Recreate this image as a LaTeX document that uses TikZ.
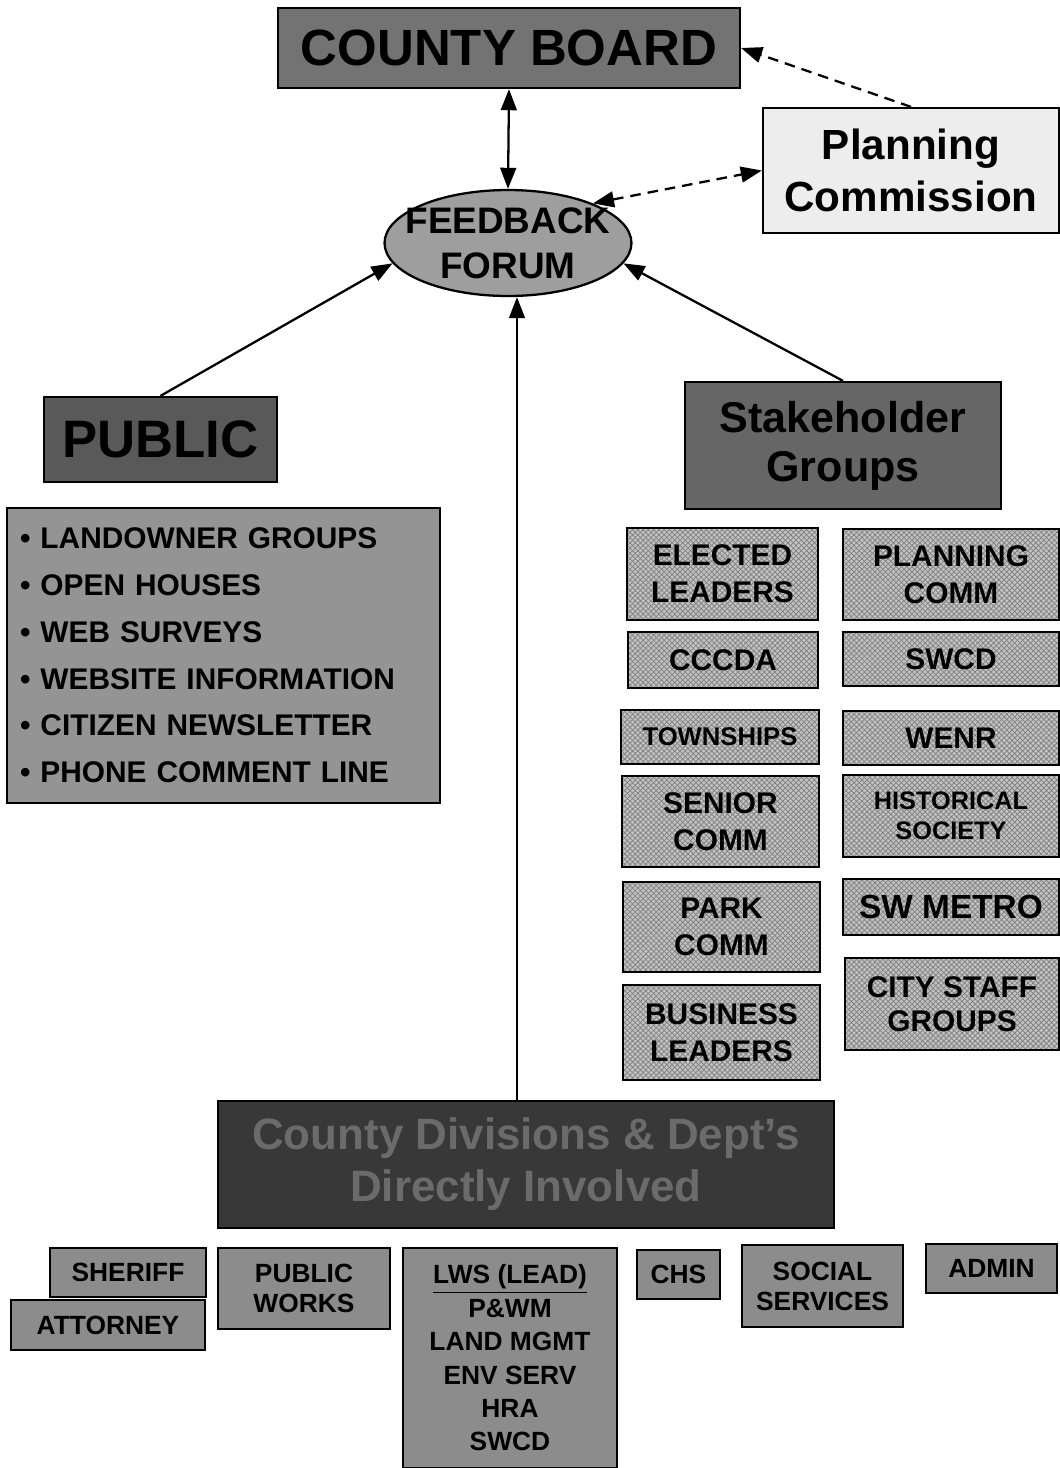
\documentclass[tikz,border=0pt]{standalone}
\usepackage{fontspec}
\setmainfont{Liberation Sans}
\usetikzlibrary{arrows.meta}
\usetikzlibrary{shapes.geometric}
\usetikzlibrary{patterns}
\usepackage{xcolor}

\begin{document}
\begin{tikzpicture}[
        x=0.02cm, y=-0.02cm,
        box/.style={rectangle, draw=black, line width=1.3pt, inner sep=0pt, align=center, font=\bfseries},
        head/.style={box, fill=black!58},
        sgroup/.style={box, preaction={fill=black!24}, pattern=crosshatch, pattern color=black!50, font=\bfseries\fontsize{17}{21}\selectfont},
        dept/.style={box, fill=black!45, font=\bfseries\fontsize{15}{17}\selectfont},
        link/.style={line width=1.3pt, -{Triangle[length=12pt,width=9pt]}},
        dlink/.style={line width=1.3pt, {Triangle[length=12pt,width=9pt]}-{Triangle[length=12pt,width=9pt]}},
        dash link/.style={dash pattern=on 6pt off 4pt}
    ]
        \useasboundingbox (0,0) rectangle (1059,1468);

        % top of the chart
        \node[head, fill=black!55, minimum width=9.24cm, minimum height=1.6cm, font=\bfseries\fontsize{29}{32}\selectfont] (board) at (509,48) {COUNTY BOARD};
        \node[box, fill=black!7, minimum width=5.92cm, minimum height=2.5cm, font=\bfseries\fontsize{24}{29.5}\selectfont] (plan) at (911,170.5) {Planning\\Commission};
        \node[ellipse, draw=black, line width=1.3pt, fill=black!38, inner sep=0pt, minimum width=4.94cm, minimum height=2.12cm] (forum) at (508,243) {};
        \node[align=center, font=\bfseries\fontsize{21}{25.5}\selectfont] (forumlbl) at (forum.center) {FEEDBACK\\FORUM};

        % public side
        \node[head, fill=black!65, minimum width=4.66cm, minimum height=1.7cm, font=\bfseries\fontsize{30}{34}\selectfont] (public) at (160.5,439.5) {PUBLIC};
        \node[box, fill=black!42, text width=8.14cm, inner xsep=0.26cm, minimum height=5.9cm, align=left, font=\bfseries\fontsize{17}{26.6}\selectfont] (outreach) at (223.5,655.5)
            {\textbullet\ LANDOWNER GROUPS\\\textbullet\ OPEN HOUSES\\\textbullet\ WEB SURVEYS\\\textbullet\ WEBSITE INFORMATION\\\textbullet\ CITIZEN NEWSLETTER\\\textbullet\ PHONE COMMENT LINE};

        % stakeholders
        \node[head, fill=black!60, minimum width=6.32cm, minimum height=2.54cm, font=\bfseries\fontsize{24.5}{28}\selectfont] (stake) at (843,445.5) {Stakeholder\\Groups};

        \node[sgroup, minimum width=3.82cm, minimum height=1.84cm] (elected) at (722.5,574) {ELECTED\\LEADERS};
        \node[sgroup, minimum width=3.8cm, minimum height=1.12cm] (cccda) at (723,660) {CCCDA};
        \node[sgroup, minimum width=3.96cm, minimum height=1.08cm, font=\bfseries\fontsize{14.6}{17}\selectfont] (townships) at (720,737) {TOWNSHIPS};
        \node[sgroup, minimum width=3.94cm, minimum height=1.82cm] (senior) at (720.5,821.5) {SENIOR\\COMM};
        \node[sgroup, minimum width=3.94cm, minimum height=1.8cm] (park) at (721.5,927) {PARK\\COMM};
        \node[sgroup, minimum width=3.94cm, minimum height=1.9cm] (business) at (721.5,1032.5) {BUSINESS\\LEADERS};

        \node[sgroup, minimum width=4.32cm, minimum height=1.82cm] (plancomm) at (951,574.5) {PLANNING\\COMM};
        \node[sgroup, minimum width=4.32cm, minimum height=1.08cm] (swcd) at (951,659) {SWCD};
        \node[sgroup, minimum width=4.32cm, minimum height=1.08cm] (wenr) at (951,738) {WENR};
        \node[sgroup, minimum width=4.32cm, minimum height=1.64cm, font=\bfseries\fontsize{14.4}{17}\selectfont] (historical) at (951,816) {HISTORICAL\\SOCIETY};
        \node[sgroup, minimum width=4.32cm, minimum height=1.12cm, font=\bfseries\fontsize{19}{21}\selectfont] (swmetro) at (951,907) {SW METRO};
        \node[sgroup, minimum width=4.28cm, minimum height=1.84cm, font=\bfseries\fontsize{17}{19.5}\selectfont] (citystaff) at (952,1004) {CITY STAFF\\GROUPS};

        % county departments
        \node[box, fill=black!78, text=black!58, minimum width=12.32cm, minimum height=2.54cm, font=\bfseries\fontsize{25}{29.5}\selectfont] (divs) at (526,1164.5) {County Divisions \& Dept's\\Directly Involved};
        \coordinate (divtop) at (517,1101);

        \node[dept, minimum width=3.12cm, minimum height=0.98cm] (sheriff) at (128,1272.5) {SHERIFF};
        \node[dept, minimum width=3.88cm, minimum height=1.0cm] (attorney) at (108,1325) {ATTORNEY};
        \node[dept, minimum width=3.44cm, minimum height=1.62cm] (pubworks) at (304,1288.5) {PUBLIC\\WORKS};
        \node[dept, minimum width=4.28cm, minimum height=4.4cm, font=\bfseries\fontsize{15}{19}\selectfont] (lws) at (510,1358) {\underline{LWS (LEAD)}\\P\&WM\\LAND MGMT\\ENV SERV\\HRA\\SWCD};
        \node[dept, minimum width=1.66cm, minimum height=0.98cm] (chs) at (678.5,1274.5) {CHS};
        \node[dept, minimum width=3.22cm, minimum height=1.64cm] (social) at (822.5,1286) {SOCIAL\\SERVICES};
        \node[dept, minimum width=2.62cm, minimum height=0.98cm] (admin) at (991.5,1268.5) {ADMIN};

        % connectors
        \draw[dlink] (board.south) -- (forum.north);
        \draw[link, dash link] (plan.north) -- (board.east);
        \draw[dlink, dash link] (forum.25) -- (plan.west);
        \draw[link] (public.north) -- (forum.190);
        \draw[link] (stake.north) -- (forum.350);
        \draw[link] (divtop) -- (divtop |- forum.south);
    \end{tikzpicture}
\end{document}
